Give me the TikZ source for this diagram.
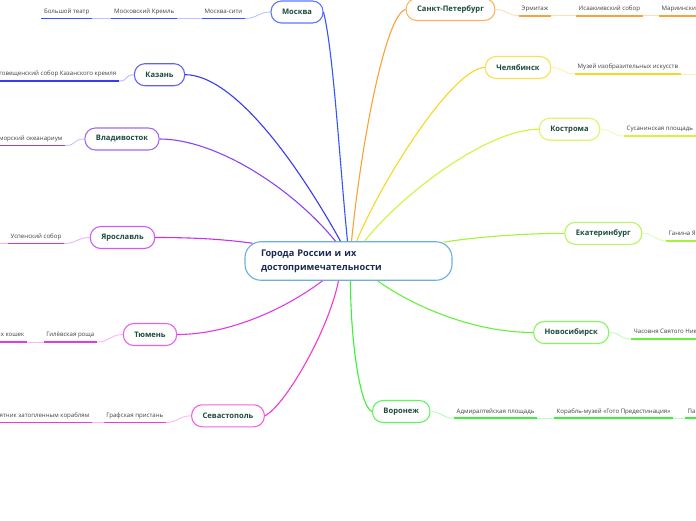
\documentclass[tikz,border=0pt]{standalone}
\usepackage{fontspec}
\setmainfont{Open Sans}

\definecolor{cMsk}{HTML}{3355FF}
\definecolor{cKzn}{HTML}{3A3AF2}
\definecolor{cVld}{HTML}{8A45F2}
\definecolor{cYar}{HTML}{C233F2}
\definecolor{cTmn}{HTML}{E23AE6}
\definecolor{cSev}{HTML}{F23AD2}
\definecolor{cSpb}{HTML}{F8A33A}
\definecolor{cChl}{HTML}{F8D820}
\definecolor{cKst}{HTML}{D4F240}
\definecolor{cEkb}{HTML}{A6F23A}
\definecolor{cNsk}{HTML}{66F23A}
\definecolor{cVrn}{HTML}{3AF23A}
\definecolor{cCore}{HTML}{6AAEE2}
\definecolor{cLabel}{HTML}{1C4A3C}
\definecolor{cCoreText}{HTML}{1A2B4F}

\tikzset{
	city/.style={draw=#1!80, line width=1.1pt, fill=white, rounded corners=10.5pt, minimum height=22pt, inner xsep=11pt, font=\fontsize{7.6}{9}\selectfont\bfseries, text=cLabel},
	leaf/.style={inner xsep=2.5pt, inner ysep=3pt, text height=4.5pt, text depth=2pt, font=\fontsize{6.1}{7}\selectfont, text=black!75},
	branch/.style={draw=#1, line width=1.1pt},
	ul/.style={draw=#1, line width=1.9pt},
	lk/.style={draw=#1!35, line width=0.9pt},
}

\begin{document}
\begin{tikzpicture}[x=1pt, y=-1pt]
		%%%%% START %%%%%
		
		\fill[white] (0,0) rectangle (696,520);
		\useasboundingbox (0,0) rectangle (696,520);
		
		\node[draw=cCore, line width=1.1pt, fill=white, rounded corners=16pt, minimum height=38.5pt, text width=175pt, inner xsep=16pt, align=left, font=\fontsize{9.2}{14}\selectfont\bfseries, text=cCoreText] (core) at (348.5,261) {Города России и их\\достопримечательности};
		
		\node[city=cMsk] (msk) at (297,12) {Москва};
		\node[city=cKzn] (kzn) at (159.5,74.7) {Казань};
		\node[city=cVld] (vld) at (122,139) {Владивосток};
		\node[city=cYar] (yar) at (122.5,237.5) {Ярославль};
		\node[city=cTmn] (tmn) at (150,334.5) {Тюмень};
		\node[city=cSev] (sev) at (228,415.8) {Севастополь};
		
		\node[city=cSpb] (spb) at (450.5,9.5) {Санкт-Петербург};
		\node[city=cChl] (chl) at (518,67.5) {Челябинск};
		\node[city=cKst] (kst) at (569.5,129.2) {Кострома};
		\node[city=cEkb] (ekb) at (603.3,233.3) {Екатеринбург};
		\node[city=cNsk] (nsk) at (571.2,332.5) {Новосибирск};
		\node[city=cVrn] (vrn) at (401.2,411.5) {Воронеж};
		
		\draw[branch=cMsk] (msk.east) .. controls +(10,40) and +(-8,-80) .. ([shift={(-1,0)}]core.north);
		\draw[branch=cKzn] (kzn.east) .. controls +(45,0) and +(-50,-90) .. ([shift={(-8,0)}]core.north);
		\draw[branch=cVld] (vld.east) .. controls +(55,0) and +(-45,-55) .. ([shift={(-13,0)}]core.north);
		\draw[branch=cYar] (yar.east) .. controls +(40,0) and +(-30,-4) .. ([shift={(8,2)}]core.north west);
		\draw[branch=cTmn] (tmn.east) .. controls +(50,0) and +(-40,30) .. ([shift={(-26,0)}]core.south);
		\draw[branch=cSev] (sev.east) .. controls +(20,-10) and +(-10,50) .. ([shift={(-10,0)}]core.south);
		
		\draw[branch=cSpb] (spb.west) .. controls +(-20,5) and +(10,-100) .. ([shift={(3,0)}]core.north);
		\draw[branch=cChl] (chl.west) .. controls +(-30,0) and +(30,-70) .. ([shift={(8,0)}]core.north);
		\draw[branch=cKst] (kst.west) .. controls +(-50,0) and +(40,-50) .. ([shift={(16,0)}]core.north);
		\draw[branch=cEkb] (ekb.west) .. controls +(-40,0) and +(30,-5) .. ([shift={(-9,1)}]core.north east);
		\draw[branch=cNsk] (nsk.west) .. controls +(-60,0) and +(35,25) .. ([shift={(29,0)}]core.south);
		\draw[branch=cVrn] (vrn.west) .. controls +(-12,-5) and +(0,60) .. ([shift={(2,0)}]core.south);
		
		% left leaves
		\node[leaf, anchor=south east] (m1) at (245,18.5) {Москва-сити};
		\node[leaf, anchor=south east] (m2) at (177,18.5) {Московский Кремль};
		\node[leaf, anchor=south east] (m3) at (92,18.5) {Большой театр};
		\node[leaf, anchor=south east] (k1) at (119,81) {Благовещенский собор Казанского кремля};
		\node[leaf, anchor=south east] (v1) at (65,145.5) {Приморский океанариум};
		\node[leaf, anchor=south east] (y1) at (64,243.5) {Успенский собор};
		\coordinate (y0) at (-5,243.5);
		\node[leaf, anchor=south east] (t1) at (97,342) {Гилёвская роща};
		\node[leaf, anchor=south east] (t2) at (27,342) {Сквер сибирских кошек};
		\node[leaf, anchor=south east] (s1) at (166,422.5) {Графская пристань};
		\node[leaf, anchor=south east] (s2) at (92,422.5) {Памятник затопленным кораблям};
		
		% right leaves
		\node[leaf, anchor=south west] (p1) at (519,15.7) {Эрмитаж};
		\node[leaf, anchor=south west] (p2) at (576,15.7) {Исаакиевский собор};
		\node[leaf, anchor=south west] (p3) at (659,15.7) {Мариинский театр};
		\node[leaf, anchor=south west] (c1) at (575,74) {Музей изобразительных искусств};
		\coordinate (c0) at (701,74);
		\node[leaf, anchor=south west] (q1) at (624,136) {Сусанинская площадь};
		\coordinate (q0) at (701,136);
		\node[leaf, anchor=south west] (e1) at (666,240.7) {Ганина Яма};
		\node[leaf, anchor=south west] (n1) at (631,339) {Часовня Святого Николая};
		\node[leaf, anchor=south west] (r1) at (454,418.3) {Адмиралтейская площадь};
		\node[leaf, anchor=south west] (r2) at (554,418.3) {Корабль-музей «Гото Предестинация»};
		\node[leaf, anchor=south west] (r3) at (685,418.3) {Памятник Петру I};
		
		\draw[lk=cMsk] (msk.west) .. controls +(-12,0) and +(12,0) .. (m1.south east);
		\draw[lk=cMsk] (m1.south west) -- (m2.south east);
		\draw[lk=cMsk] (m2.south west) -- (m3.south east);
		\draw[ul=cMsk] (m1.south west) -- (m1.south east);
		\draw[ul=cMsk] (m2.south west) -- (m2.south east);
		\draw[ul=cMsk] (m3.south west) -- (m3.south east);
		
		\draw[lk=cKzn] (kzn.west) .. controls +(-10,0) and +(10,0) .. (k1.south east);
		\draw[ul=cKzn] (k1.south west) -- (k1.south east);
		
		\draw[lk=cVld] (vld.west) .. controls +(-12,0) and +(12,0) .. (v1.south east);
		\draw[ul=cVld] (v1.south west) -- (v1.south east);
		
		\draw[lk=cYar] (yar.west) .. controls +(-12,0) and +(12,0) .. (y1.south east);
		\draw[lk=cYar] (y1.south west) -- (y0);
		\draw[ul=cYar] (y1.south west) -- (y1.south east);
		
		\draw[lk=cTmn] (tmn.west) .. controls +(-12,0) and +(12,0) .. (t1.south east);
		\draw[lk=cTmn] (t1.south west) -- (t2.south east);
		\draw[ul=cTmn] (t1.south west) -- (t1.south east);
		\draw[ul=cTmn] (t2.south west) -- (t2.south east);
		
		\draw[lk=cSev] (sev.west) .. controls +(-12,0) and +(12,0) .. (s1.south east);
		\draw[lk=cSev] (s1.south west) -- (s2.south east);
		\draw[ul=cSev] (s1.south west) -- (s1.south east);
		\draw[ul=cSev] (s2.south west) -- (s2.south east);
		
		\draw[lk=cSpb] (spb.east) .. controls +(12,0) and +(-12,0) .. (p1.south west);
		\draw[lk=cSpb] (p1.south east) -- (p2.south west);
		\draw[lk=cSpb] (p2.south east) -- (p3.south west);
		\draw[ul=cSpb] (p1.south west) -- (p1.south east);
		\draw[ul=cSpb] (p2.south west) -- (p2.south east);
		\draw[ul=cSpb] (p3.south west) -- (p3.south east);
		
		\draw[lk=cChl] (chl.east) .. controls +(12,0) and +(-12,0) .. (c1.south west);
		\draw[lk=cChl] (c1.south east) -- (c0);
		\draw[ul=cChl] (c1.south west) -- (c1.south east);
		
		\draw[lk=cKst] (kst.east) .. controls +(12,0) and +(-12,0) .. (q1.south west);
		\draw[lk=cKst] (q1.south east) -- (q0);
		\draw[ul=cKst] (q1.south west) -- (q1.south east);
		
		\draw[lk=cEkb] (ekb.east) .. controls +(12,0) and +(-12,0) .. (e1.south west);
		\draw[ul=cEkb] (e1.south west) -- (e1.south east);
		
		\draw[lk=cNsk] (nsk.east) .. controls +(12,0) and +(-12,0) .. (n1.south west);
		\draw[ul=cNsk] (n1.south west) -- (n1.south east);
		
		\draw[lk=cVrn] (vrn.east) .. controls +(12,0) and +(-12,0) .. (r1.south west);
		\draw[lk=cVrn] (r1.south east) -- (r2.south west);
		\draw[lk=cVrn] (r2.south east) -- (r3.south west);
		\draw[ul=cVrn] (r1.south west) -- (r1.south east);
		\draw[ul=cVrn] (r2.south west) -- (r2.south east);
		\draw[ul=cVrn] (r3.south west) -- (r3.south east);
		
		%%%%% END %%%%%
	\end{tikzpicture}
\end{document}
